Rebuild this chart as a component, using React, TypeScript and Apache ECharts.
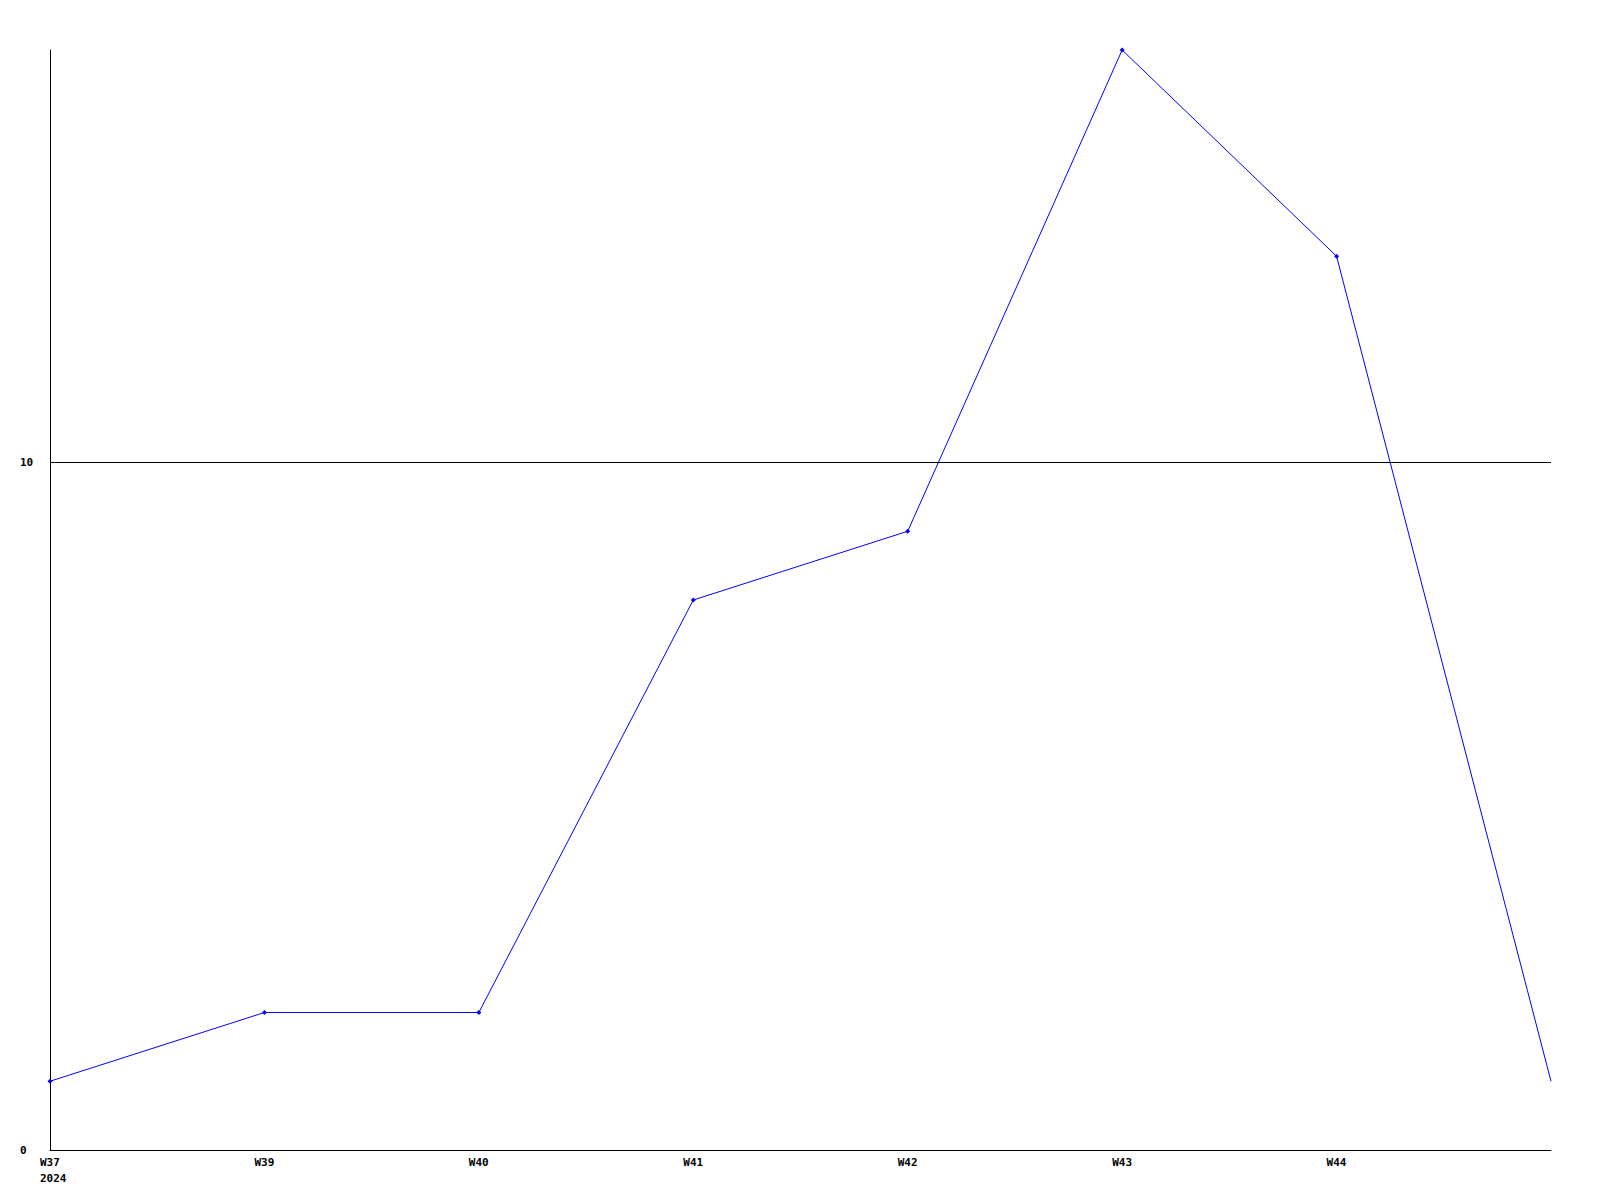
import React, { useEffect, useRef } from "react";
import * as echarts from "echarts";

const categories = ["W37\n2024", "W39", "W40", "W41", "W42", "W43", "W44", ""];
const values = [1, 2, 2, 8, 9, 16, 13, 1];
const referenceLine = 10;

export default function App() {
  const ref = useRef<HTMLDivElement>(null);
  useEffect(() => {
    const chart = echarts.init(ref.current!, undefined, { renderer: "svg" });
    const font = { fontFamily: "DejaVu Sans Mono", fontWeight: "bold" as const, fontSize: 11, color: "#000" };
    const lastIdx = values.length - 1;
    chart.setOption({
      animation: false,
      backgroundColor: "#fff",
      grid: { left: 50, right: 49, top: 50, bottom: 50, containLabel: false },
      xAxis: {
        type: "category",
        data: categories,
        boundaryGap: false,
        axisLine: { lineStyle: { color: "#000", width: 1 } },
        axisTick: { show: false },
        axisLabel: { ...font, margin: 4, interval: 0, lineHeight: 16, align: "left", padding: [0, 0, 0, -10] },
      },
      yAxis: {
        type: "value",
        min: 0,
        max: 16,
        interval: 10,
        axisLine: { show: true, lineStyle: { color: "#000", width: 1 } },
        axisTick: { show: false },
        splitLine: { show: false },
        axisLabel: { ...font, align: "left", margin: 30, showMaxLabel: false },
      },
      series: [
        {
          type: "line",
          data: values.map((v, i) => (i === lastIdx ? { value: v, symbol: "none" } : v)),
          symbol: "diamond",
          symbolSize: 5,
          lineStyle: { color: "#0000ff", width: 1 },
          itemStyle: { color: "#0000ff" },
          markLine: {
            silent: true,
            symbol: "none",
            label: { show: false },
            lineStyle: { color: "#000", width: 1, type: "solid" },
            data: [{ yAxis: referenceLine }],
          },
        },
      ],
    });
    return () => chart.dispose();
  }, []);
  return <div ref={ref} style={{ width: 1600, height: 1200, position: "absolute", left: 0, top: 0 }} />;
}
